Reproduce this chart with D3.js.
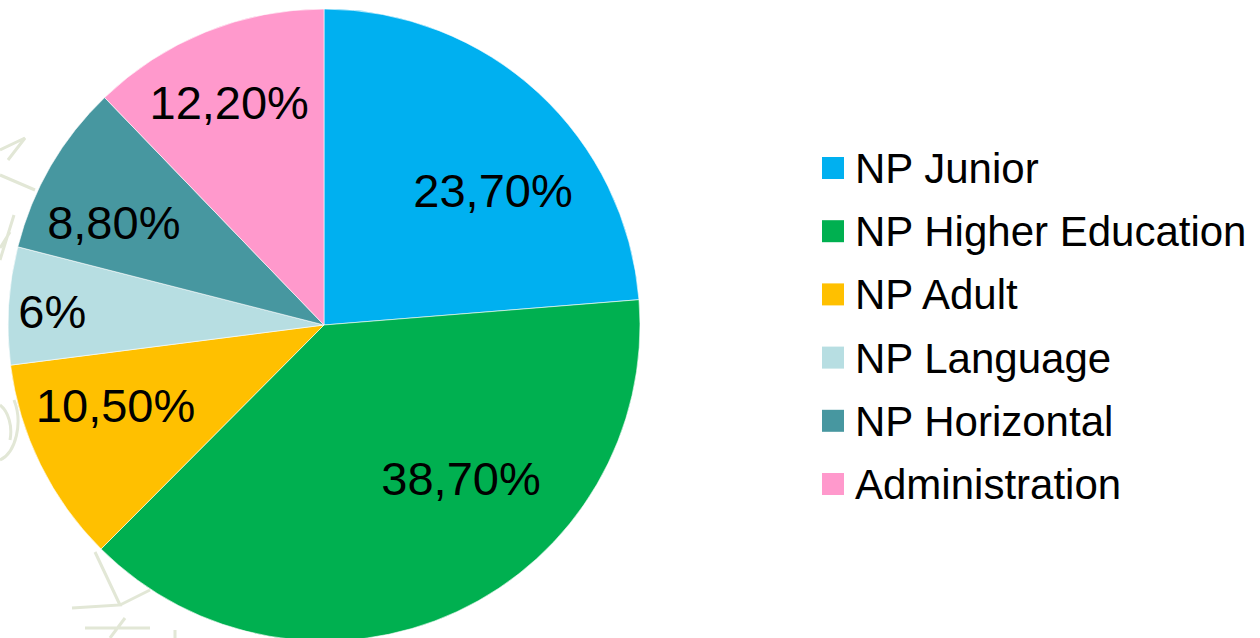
<!DOCTYPE html>
<html>
<head>
<meta charset="utf-8">
<script src="https://cdn.jsdelivr.net/npm/d3@7"></script>
<style>
  body { margin: 0; background: #fff; }
  text { font-family: "Liberation Sans", Arial, sans-serif; }
</style>
</head>
<body>
<div id="chart"></div>
<script>
// data
var categories = ["NP Junior", "NP Higher Education", "NP Adult", "NP Language", "NP Horizontal", "Administration"];
var values = [23.7, 38.7, 10.5, 6, 8.8, 12.2];
var valueLabels = ["23,70%", "38,70%", "10,50%", "6%", "8,80%", "12,20%"];
var colors = ["#00b0f0", "#00b050", "#ffc000", "#b7dee2", "#4797a0", "#ff99cc"];

// label nudges (px) from the centroid, to mimic the "best fit" placement
var labelNudge = [[19, 28], [44, -48], [-10, -18], [-51, 0], [-19, 8], [-12, -18]];

var width = 1260, height = 638;
var cx = 324, cy = 325, radius = 316;

var svg = d3.select("#chart")
  .append("svg")
    .attr("width", width)
    .attr("height", height);

// faint background watermark pieces
var wm = svg.append("g")
    .attr("fill", "none")
    .attr("stroke", "#e2e7d6")
    .attr("stroke-width", 3);
wm.append("path").attr("d", "M0,150 L25,138 L8,160 M0,175 L35,190 M0,260 L14,215 M10,232 L0,248");
wm.append("path").attr("d", "M0,405 A20,30 0 0 1 10,440 M0,460 A25,40 0 0 0 14,400");
wm.append("path").attr("d", "M95,552 L120,605 L72,608 M120,605 L150,590 M85,628 L150,628 M110,638 L125,618 M175,630 L175,638");

var g = svg.append("g")
    .attr("transform", "translate(" + cx + "," + cy + ")");

var pie = d3.pie()
    .sort(null)
    .value(function(d) { return d; });

var arc = d3.arc()
    .innerRadius(0)
    .outerRadius(radius);

var labelArc = d3.arc()
    .innerRadius(radius * 0.7)
    .outerRadius(radius * 0.7);

var arcs = pie(values);

g.selectAll("path.slice")
  .data(arcs)
  .enter()
  .append("path")
    .attr("class", "slice")
    .attr("d", arc)
    .attr("fill", function(d, i) { return colors[i]; })
    .attr("stroke", "#ffffff")
    .attr("stroke-width", 0.6);

g.selectAll("text.lbl")
  .data(arcs)
  .enter()
  .append("text")
    .attr("class", "lbl")
    .attr("x", function(d, i) { return labelArc.centroid(d)[0] + labelNudge[i][0]; })
    .attr("y", function(d, i) { return labelArc.centroid(d)[1] + labelNudge[i][1]; })
    .attr("dy", "0.36em")
    .attr("text-anchor", "middle")
    .style("font-size", "47px")
    .style("fill", "#000")
    .text(function(d, i) { return valueLabels[i]; });

// legend
var legend = svg.append("g")
    .attr("transform", "translate(822,157)");

var row = d3.scaleBand()
    .domain(categories)
    .range([0, 63.2 * categories.length]);

var item = legend.selectAll("g.item")
  .data(categories)
  .enter()
  .append("g")
    .attr("class", "item")
    .attr("transform", function(d) { return "translate(0," + row(d) + ")"; });

item.append("rect")
    .attr("width", 22)
    .attr("height", 22)
    .attr("fill", function(d, i) { return colors[i]; });

item.append("text")
    .attr("x", 33)
    .attr("y", 26)
    .style("font-size", "42px")
    .style("fill", "#000")
    .text(function(d) { return d; });
</script>
</body>
</html>
